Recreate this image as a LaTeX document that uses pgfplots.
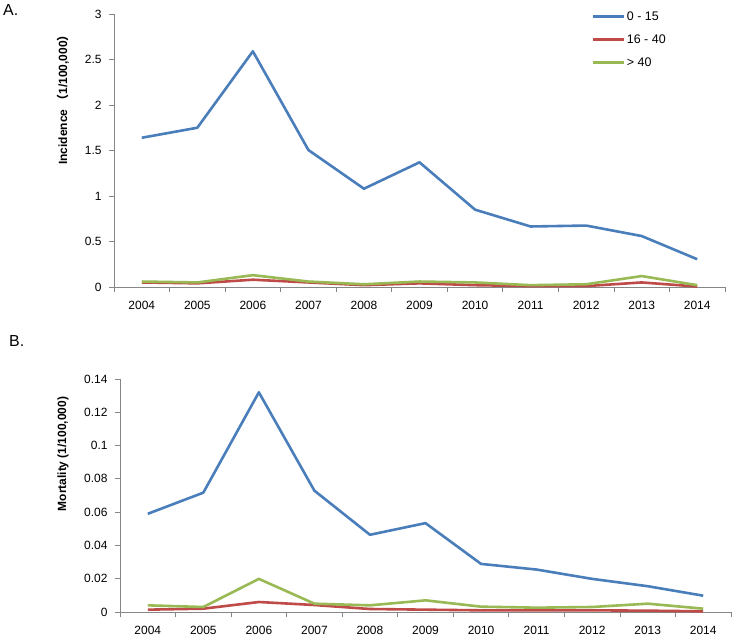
\documentclass[border=0pt]{standalone}
\usepackage{pgfplots}
\pgfplotsset{compat=1.18}
\usepackage{fontspec}
\setmainfont{Liberation Sans}
\newfontfamily\cjk{Noto Sans CJK SC}
\definecolor{cA}{HTML}{4A7EBB}
\definecolor{cB}{HTML}{BE4B48}
\definecolor{cC}{HTML}{98B954}
\definecolor{axgray}{HTML}{868686}
\pgfplotsset{
  excel/.style={
    scale only axis, width=611bp,
    axis x line=bottom, axis y line=left,
    axis line style={-, draw=axgray, line width=0.8bp},
    xmin=-0.5, xmax=10.5,
    xtick={0,1,2,3,4,5,6,7,8,9,10},
    xticklabels={2004,2005,2006,2007,2008,2009,2010,2011,2012,2013,2014},
    major x tick style={draw=none},
    minor xtick={-0.5,0.5,1.5,2.5,3.5,4.5,5.5,6.5,7.5,8.5,9.5,10.5},
    minor x tick style={draw=axgray, line width=0.8bp},
    major tick length=5bp, minor tick length=5bp,
    tick align=outside,
    ytick style={draw=axgray, line width=0.8bp},
    tick label style={font=\fontsize{12}{14}\selectfont},
    xticklabel style={yshift=-6bp},
    yticklabel style={xshift=-4bp},
    /pgf/number format/assume math mode=true,
    /pgf/number format/fixed,
    /pgf/number format/precision=2,
    clip=false,
    every axis plot/.append style={line width=2.6bp, line join=round, mark=none},
    ylabel style={font=\fontsize{12}{14}\selectfont\bfseries, anchor=center},
  }
}
\begin{document}
\begin{tikzpicture}
\useasboundingbox (0,0) rectangle (733bp,638bp);
\node[anchor=north west, inner sep=0pt, font=\fontsize{16}{18}\selectfont] at (3bp,634bp) {A.};
\node[anchor=north west, inner sep=0pt, font=\fontsize{16}{18}\selectfont] at (9bp,303bp) {B.};
\begin{axis}[excel,
  at={(114bp,351bp)}, anchor=south west, height=273bp,
  ymin=0, ymax=3, ytick={0,0.5,1,1.5,2,2.5,3},
  ylabel={Incidence {\cjk （}1/100,000{\cjk ）}},
  ylabel style={at={(axis description cs:-0.0835,0.696)}},
  legend style={draw=none, fill=none, at={(axis description cs:0.776,1.025)}, anchor=north west,
    font=\fontsize{12.5}{14}\selectfont, row sep=9bp, cells={anchor=west}},
  legend image code/.code={\draw[#1] (0bp,0bp) -- (31bp,0bp);},
]
\addplot[cA] coordinates {(0,1.64) (1,1.75) (2,2.59) (3,1.505) (4,1.08) (5,1.37) (6,0.85) (7,0.665) (8,0.675) (9,0.56) (10,0.305)};
\addplot[cB] coordinates {(0,0.05) (1,0.04) (2,0.08) (3,0.05) (4,0.02) (5,0.04) (6,0.02) (7,0.01) (8,0.01) (9,0.05) (10,0.005)};
\addplot[cC] coordinates {(0,0.06) (1,0.05) (2,0.13) (3,0.06) (4,0.03) (5,0.06) (6,0.05) (7,0.02) (8,0.03) (9,0.12) (10,0.02)};
\legend{0 - 15, 16 - 40, > 40}
\end{axis}
\begin{axis}[excel,
  at={(120bp,26bp)}, anchor=south west, height=233bp,
  ymin=0, ymax=0.14, ytick={0,0.02,0.04,0.06,0.08,0.1,0.12,0.14},
  ylabel={Mortality (1/100,000)},
  ylabel style={at={(axis description cs:-0.0933,0.678)}},
]
\addplot[cA] coordinates {(0,0.059) (1,0.0717) (2,0.132) (3,0.0729) (4,0.0464) (5,0.0534) (6,0.0289) (7,0.0255) (8,0.0199) (9,0.0155) (10,0.0098)};
\addplot[cB] coordinates {(0,0.0014) (1,0.002) (2,0.006) (3,0.0042) (4,0.0018) (5,0.0014) (6,0.001) (7,0.001) (8,0.001) (9,0.0008) (10,0.0004)};
\addplot[cC] coordinates {(0,0.004) (1,0.003) (2,0.0199) (3,0.005) (4,0.004) (5,0.007) (6,0.0032) (7,0.0026) (8,0.003) (9,0.005) (10,0.002)};
\end{axis}
\end{tikzpicture}
\end{document}
